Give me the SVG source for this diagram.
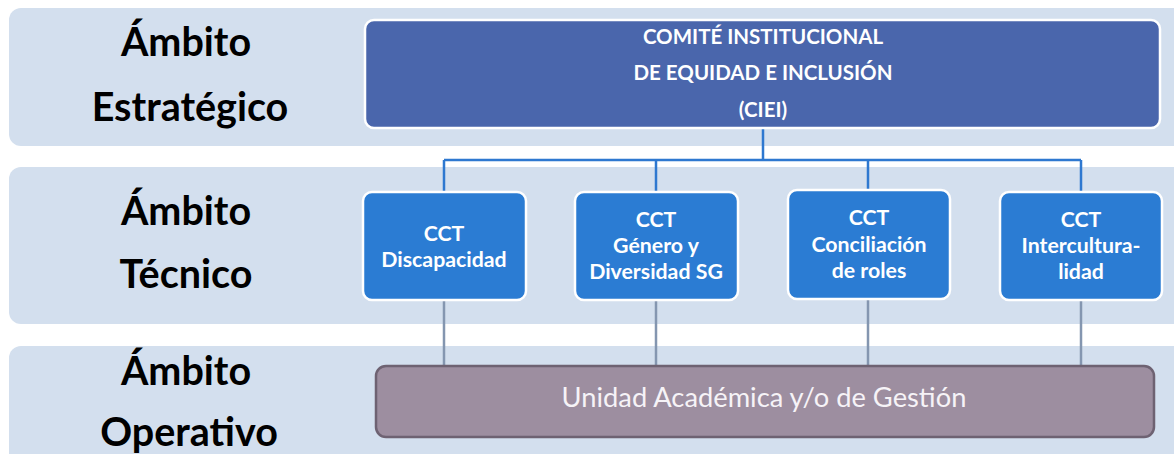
<svg xmlns="http://www.w3.org/2000/svg" width="1174" height="454" viewBox="0 0 1174 454">
<style>
.band{fill:#D3DFEE;}
.lbl{font-family:Lato,"Liberation Sans",sans-serif;font-weight:bold;font-size:39.5px;fill:#000;text-anchor:middle;}
.ciei{fill:#4A66AC;stroke:#fff;stroke-width:2.5;}
.cct{fill:#2B7CD3;stroke:#fff;stroke-width:2.5;}
.wt{font-family:Lato,"Liberation Sans",sans-serif;font-weight:bold;fill:#fff;text-anchor:middle;}
.t1{font-size:20.5px;}
.t2{font-size:21.3px;}
.ua{fill:#9D8EA0;stroke:#6E6272;stroke-width:2.5;}
.uat{font-family:Lato,"Liberation Sans",sans-serif;font-size:27.3px;fill:#F6F3F7;text-anchor:middle;}
.cb{fill:none;stroke:#2E78D0;stroke-width:2.5;}
.cg{fill:none;stroke:#8496B0;stroke-width:2.5;}
</style>
<g id="bands">
<rect class="band" x="9" y="8" width="1190" height="138" rx="12"/>
<rect class="band" x="9" y="167" width="1190" height="157" rx="12"/>
<rect class="band" x="9" y="346" width="1190" height="130" rx="12"/>
</g>
<g id="labels">
<text class="lbl" x="186" y="56">Ámbito</text>
<text class="lbl" x="190" y="121">Estratégico</text>
<text class="lbl" x="186" y="225">Ámbito</text>
<text class="lbl" x="186" y="288">Técnico</text>
<text class="lbl" x="186" y="385">Ámbito</text>
<text class="lbl" x="189" y="446">Operativo</text>
</g>
<g id="connectors">
<path class="cb" d="M763,128 V160 M444,160 H1081 M444,160 V192 M656,160 V192 M868,160 V190 M1081,160 V192"/>
<path class="cg" d="M444,300 V366 M656,300 V366 M868,299 V366 M1081,300 V366"/>
</g>
<g id="ciei">
<rect class="ciei" x="365" y="20" width="795" height="108" rx="9"/>
<text class="wt t1" x="763" y="44">COMITÉ INSTITUCIONAL</text>
<text class="wt t1" x="763" y="80">DE EQUIDAD E INCLUSIÓN</text>
<text class="wt t1" x="763" y="117">(CIEI)</text>
</g>
<g id="cct1">
<rect class="cct" x="363" y="192" width="163" height="108" rx="9"/>
<text class="wt t2" x="444" y="241">CCT</text>
<text class="wt t2" x="444" y="267">Discapacidad</text>
</g>
<g id="cct2">
<rect class="cct" x="575" y="192" width="163" height="108" rx="9"/>
<text class="wt t2" x="656" y="227">CCT</text>
<text class="wt t2" x="656" y="253">Género y</text>
<text class="wt t2" x="656" y="279">Diversidad SG</text>
</g>
<g id="cct3">
<rect class="cct" x="788" y="190" width="162" height="109" rx="9"/>
<text class="wt t2" x="869" y="225">CCT</text>
<text class="wt t2" x="869" y="252">Conciliación</text>
<text class="wt t2" x="869" y="278">de roles</text>
</g>
<g id="cct4">
<rect class="cct" x="1000" y="192" width="162" height="108" rx="9"/>
<text class="wt t2" x="1081" y="227">CCT</text>
<text class="wt t2" x="1081" y="253">Intercultura-</text>
<text class="wt t2" x="1081" y="279">lidad</text>
</g>
<g id="ua">
<rect class="ua" x="376" y="366" width="778" height="71" rx="10"/>
<text class="uat" x="764" y="407">Unidad Académica y/o de Gestión</text>
</g>
</svg>
